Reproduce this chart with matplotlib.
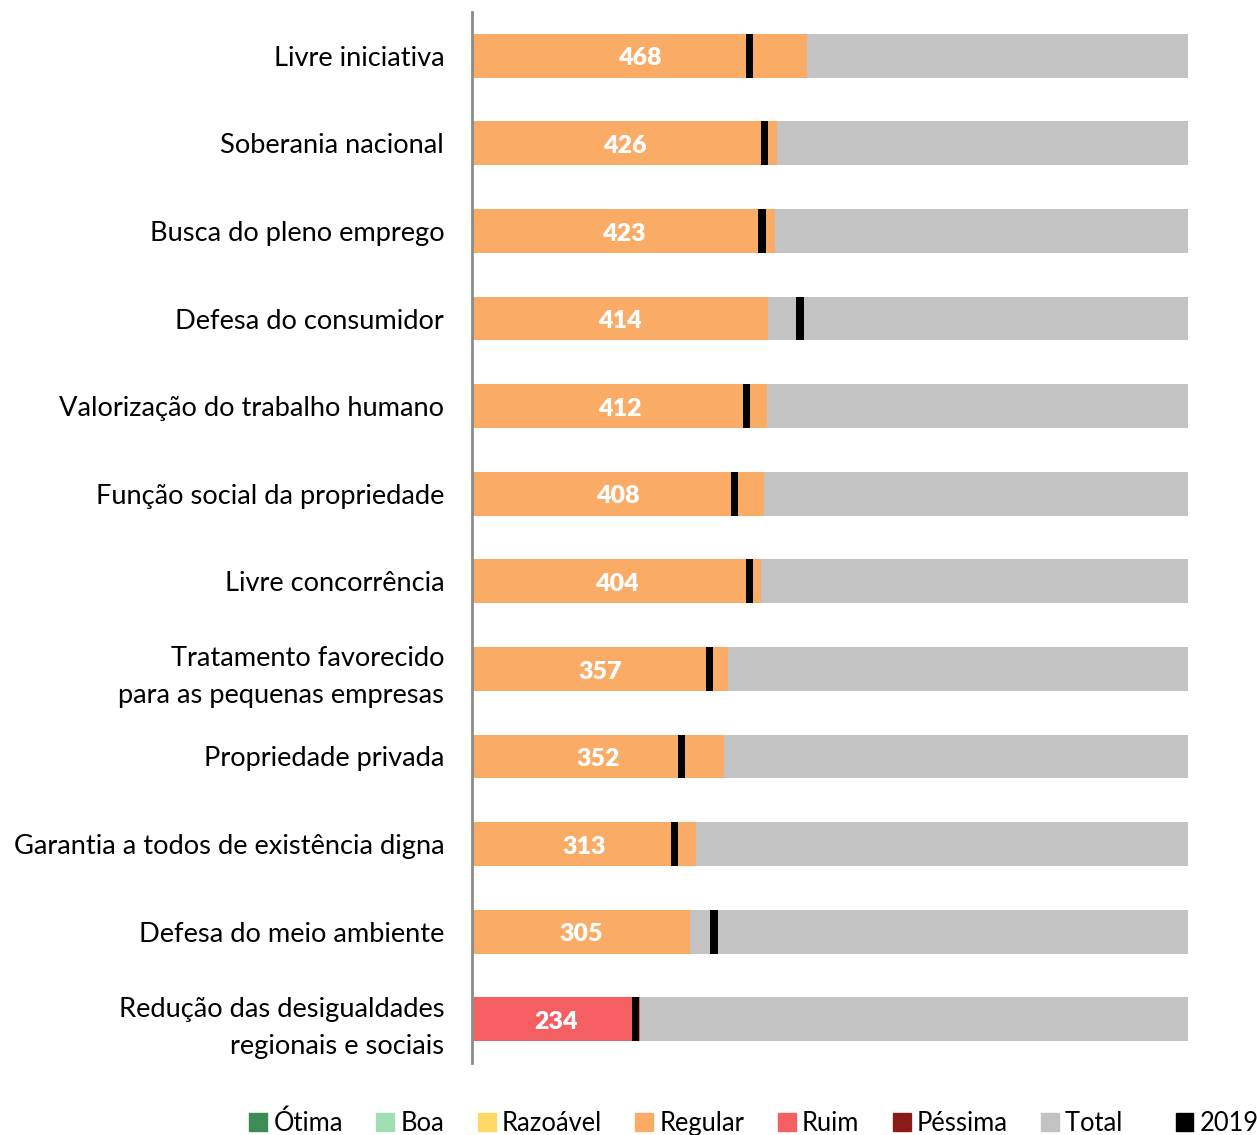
import matplotlib.pyplot as plt
from matplotlib.patches import Patch

plt.rcParams['font.family'] = ['Lato', 'DejaVu Sans']

# data (top to bottom)
categories = ['Livre iniciativa', 'Soberania nacional', 'Busca do pleno emprego',
              'Defesa do consumidor', 'Valorização do trabalho humano',
              'Função social da propriedade', 'Livre concorrência',
              'Tratamento favorecido\npara as pequenas empresas', 'Propriedade privada',
              'Garantia a todos de existência digna', 'Defesa do meio ambiente',
              'Redução das desigualdades\nregionais e sociais']
values = [468, 426, 423, 414, 412, 408, 404, 357, 352, 313, 305, 234]
values_2019 = [387, 408, 405, 458, 383, 367, 388, 332, 293, 283, 338, 228]
classes = ['Regular'] * 11 + ['Ruim']
total = 1000

legend_labels = ['Ótima', 'Boa', 'Razoável', 'Regular', 'Ruim', 'Péssima', 'Total', '2019']
legend_colors = ['#3d8b55', '#9fdfb3', '#ffd966', '#faab66', '#f55f62', '#8b1a1a',
                 '#c3c3c3', '#000000']
colors = dict(zip(legend_labels, legend_colors))

fig = plt.figure(figsize=(12.57, 11.35), dpi=100)
ax = fig.add_axes([472 / 1257, 72 / 1135, 716 / 1257, 1051 / 1135])

y = list(range(len(categories)))
h = 0.5
ax.barh(y, [total] * len(y), height=h, color=colors['Total'])
ax.barh(y, values, height=h, color=[colors[c] for c in classes])
ax.barh(y, [10] * len(y), left=[v - 5 for v in values_2019], height=h, color='black')

for yi, v in zip(y, values):
    ax.text(v / 2, yi + 0.03, str(v), ha='center', va='center', color='white',
            fontsize=18, fontweight='heavy')

ax.set_xlim(0, total)
ax.set_ylim(len(y) - 0.5, -0.5)
ax.set_yticks(y)
ax.set_yticklabels(categories, fontsize=19.6, linespacing=1.6)
ax.tick_params(axis='y', length=0, pad=20)
ax.set_xticks([])
for s in ['top', 'right', 'bottom']:
    ax.spines[s].set_visible(False)
ax.spines['left'].set_color('#8c8c8c')
ax.spines['left'].set_linewidth(2)

handles = [Patch(color=c) for c in legend_colors]
texts = legend_labels[:-2] + ['Total   ', legend_labels[-1]]
fig.legend(handles, texts, loc='center', ncol=8,
           bbox_to_anchor=(0.6, 12 / 1135), frameon=False, fontsize=18.4,
           handlelength=0.7, handleheight=0.7, handletextpad=0.25,
           columnspacing=1.3)

fig.savefig('out.png', dpi=100)
